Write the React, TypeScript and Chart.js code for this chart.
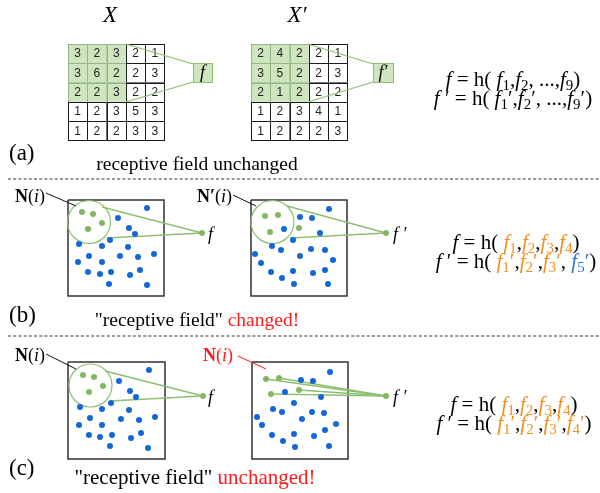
import React, { useEffect, useRef } from "react";
import { Chart, registerables } from "chart.js";

Chart.register(...registerables);

// ---------- data ----------
const gridX = [
  [3, 2, 3, 2, 1],
  [3, 6, 2, 2, 3],
  [2, 2, 3, 2, 2],
  [1, 2, 3, 5, 3],
  [1, 2, 2, 3, 3],
];
const gridXPrime = [
  [2, 4, 2, 2, 1],
  [3, 5, 2, 2, 3],
  [2, 1, 2, 2, 2],
  [1, 2, 3, 4, 1],
  [1, 2, 2, 2, 3],
];

const bLeftBlue = [[147,208],[118,218],[129,228],[135,234],[110,240],[79,244],[102,246],[128,247],[154,254],[89,256],[120,256],[138,257],[78,262],[102,262],[88,272],[100,274],[111,272],[130,275],[140,270],[109,284],[147,285]];
const bLeftGreen = [[82,212],[93,214],[102,223],[88,229]];
const bRightBlue = [[329,209],[300,217],[312,218],[284,229],[320,233],[293,240],[272,246],[281,250],[311,249],[325,250],[255,254],[300,256],[261,263],[333,260],[271,272],[293,271],[313,273],[325,270],[282,278],[294,284],[328,284]];
const bRightGreen = [[265,216],[278,215],[270,232],[299,228]];
const cLeftBlue = [[149,370],[119,381],[130,391],[136,397],[111,403],[80,407],[102,409],[129,410],[155,417],[90,418],[121,419],[139,420],[79,425],[102,425],[89,435],[100,437],[112,435],[131,438],[141,433],[110,446],[148,448]];
const cLeftGreen = [[83,375],[94,377],[103,386],[89,392]];
const cRightBlue = [[330,372],[301,380],[313,381],[285,392],[321,397],[294,403],[273,409],[282,412],[312,412],[324,413],[257,417],[302,419],[262,425],[336,424],[272,435],[294,434],[314,436],[325,430],[283,441],[295,447],[329,446]];
const cRightGreen = [[266,379],[279,378],[271,394],[299,390]];
const fNodes = [[202,233],[386,233],[203,396],[386,396]];
const fieldCircles = [[89,222],[272.5,222],[90.5,385.5]];

// connector segments
const greenLinks = [
  [[126,44],[193,64]], [[126,102],[193,82]],
  [[308,44],[373,64]], [[308,102],[373,82]],
  [[102,207],[202,233]], [[107,238],[202,233]],
  [[287,206],[386,233]], [[290,238],[386,233]],
  [[105,371],[203,396]], [[110,401],[203,396]],
  [[266,379],[386,396]], [[279,378],[386,396]], [[271,394],[386,396]], [[299,390],[386,396]],
];
const blackPointers = [[[46,193],[76,206]], [[233,195],[256,206]], [[46,354],[76,369]]];
const redPointers = [[[238,356],[266,369]]];
const dashedRules = [[[8,179],[600,179]], [[8,336],[600,336]]];

// boxes [x, y, w, h]
const boxes = [[68,200,96,96],[251,200,96,96],[68,362,97,97],[252,362,96,97]];

// ---------- layout / style ----------
const W = 600, H = 493;
const CELL = 19.3;
const gridOrigins = [[68, 44], [251, 44]];
const fBoxes = [[193, 63, 19, 19], [373, 63, 20, 19]];
const BLUE = "#1467d6";
const GREEN_DOT = "#85b660";
const GREEN_LINE = "#8dbf72";
const ORANGE = "#f58f1c";
const FBLUE = "#2a78d0";
const RED = "#ff1a1a";
const SERIF = '"Liberation Serif", "Times New Roman", serif';
const FORMULA_SIZE = 21;

type Seg = { t: string; it?: boolean; b?: boolean; sub?: boolean; c?: string };

const formulaA1: Seg[] = [
  { t: "f", it: true }, { t: " = h( " }, { t: "f", it: true }, { t: "1", sub: true }, { t: "," },
  { t: "f", it: true }, { t: "2", sub: true }, { t: ", ...," }, { t: "f", it: true }, { t: "9", sub: true }, { t: ")" },
];
const formulaA2: Seg[] = [
  { t: "f", it: true }, { t: " \u2032 = h( " }, { t: "f", it: true }, { t: "1", sub: true }, { t: "\u2032," },
  { t: "f", it: true }, { t: "2", sub: true }, { t: "\u2032, ...," }, { t: "f", it: true }, { t: "9", sub: true }, { t: "\u2032)" },
];
const formulaB1: Seg[] = [
  { t: "f", it: true }, { t: " = h( " },
  { t: "f", it: true, c: ORANGE }, { t: "1", sub: true, c: ORANGE }, { t: "," },
  { t: "f", it: true, c: ORANGE }, { t: "2", sub: true, c: ORANGE }, { t: "," },
  { t: "f", it: true, c: ORANGE }, { t: "3", sub: true, c: ORANGE }, { t: "," },
  { t: "f", it: true, c: ORANGE }, { t: "4", sub: true, c: ORANGE }, { t: ")" },
];
const formulaB2: Seg[] = [
  { t: "f", it: true }, { t: " \u2032 = h( " },
  { t: "f", it: true, c: ORANGE }, { t: "1", sub: true, c: ORANGE }, { t: "\u2032", c: ORANGE }, { t: "," },
  { t: "f", it: true, c: ORANGE }, { t: "2", sub: true, c: ORANGE }, { t: "\u2032", c: ORANGE }, { t: "," },
  { t: "f", it: true, c: ORANGE }, { t: "3", sub: true, c: ORANGE }, { t: "\u2032", c: ORANGE }, { t: ", " },
  { t: "f", it: true, c: FBLUE }, { t: "5", sub: true, c: FBLUE }, { t: "\u2032", c: FBLUE }, { t: ")" },
];
const formulaC2: Seg[] = [
  { t: "f", it: true }, { t: " \u2032 = h( " },
  { t: "f", it: true, c: ORANGE }, { t: "1", sub: true, c: ORANGE }, { t: "\u2032", c: ORANGE }, { t: "," },
  { t: "f", it: true, c: ORANGE }, { t: "2", sub: true, c: ORANGE }, { t: "\u2032", c: ORANGE }, { t: "," },
  { t: "f", it: true, c: ORANGE }, { t: "3", sub: true, c: ORANGE }, { t: "\u2032", c: ORANGE }, { t: "," },
  { t: "f", it: true, c: ORANGE }, { t: "4", sub: true, c: ORANGE }, { t: "\u2032", c: ORANGE }, { t: ")" },
];

function drawRich(ctx: CanvasRenderingContext2D, segs: Seg[], x: number, cy: number, size: number, align: "center" | "left") {
  const fontFor = (s: Seg) =>
    `${s.it ? "italic " : ""}${s.b ? "bold " : ""}${s.sub ? Math.round(size * 0.7) : size}px ${SERIF}`;
  let total = 0;
  for (const s of segs) { ctx.font = fontFor(s); total += ctx.measureText(s.t).width; }
  let px = align === "center" ? x - total / 2 : x;
  const base = cy + size * 0.33;
  ctx.textAlign = "left";
  ctx.textBaseline = "alphabetic";
  for (const s of segs) {
    ctx.font = fontFor(s);
    ctx.fillStyle = s.c || "#000";
    ctx.fillText(s.t, px, s.sub ? base + size * 0.2 : base);
    px += ctx.measureText(s.t).width;
  }
}

const gridPlugin = {
  id: "gridCells",
  beforeDatasetsDraw(chart: any) {
    const ctx = chart.ctx as CanvasRenderingContext2D;
    const X = (v: number) => chart.scales.x.getPixelForValue(v);
    const Y = (v: number) => chart.scales.y.getPixelForValue(v);
    [gridX, gridXPrime].forEach((g, gi) => {
      const [ox, oy] = gridOrigins[gi];
      ctx.save();
      for (let pass = 0; pass < 2; pass++) {
        g.forEach((row, r) => row.forEach((v, c) => {
          const green = r < 3 && c < 3;
          if ((pass === 0) !== green) return;
          const x0 = X(ox + c * CELL), y0 = Y(oy + r * CELL);
          const x1 = X(ox + (c + 1) * CELL), y1 = Y(oy + (r + 1) * CELL);
          ctx.fillStyle = green ? "#cfe5c0" : "#ffffff";
          ctx.fillRect(x0, y0, x1 - x0, y1 - y0);
          ctx.strokeStyle = green ? "#95b786" : "#1a1a1a";
          ctx.lineWidth = 1;
          ctx.strokeRect(Math.round(x0) + 0.5, Math.round(y0) + 0.5, Math.round(x1 - x0), Math.round(y1 - y0));
          ctx.fillStyle = "#222";
          ctx.font = '12px "Liberation Sans", Arial, sans-serif';
          ctx.textAlign = "center";
          ctx.textBaseline = "middle";
          ctx.fillText(String(v), (x0 + x1) / 2, (y0 + y1) / 2 + 0.5);
        }));
      }
      ctx.restore();
    });
  },
};

const textPlugin = {
  id: "diagramText",
  afterDatasetsDraw(chart: any) {
    const ctx = chart.ctx as CanvasRenderingContext2D;
    const X = (v: number) => chart.scales.x.getPixelForValue(v);
    const Y = (v: number) => chart.scales.y.getPixelForValue(v);
    ctx.save();
    // f boxes
    fBoxes.forEach(([bx, by, bw, bh], i) => {
      ctx.fillStyle = "#cfe5c0";
      ctx.fillRect(X(bx), Y(by), bw, bh);
      ctx.strokeStyle = GREEN_LINE;
      ctx.lineWidth = 1;
      ctx.strokeRect(Math.round(X(bx)) + 0.5, Math.round(Y(by)) + 0.5, bw, bh);
      drawRich(ctx, [{ t: i === 0 ? "f" : "f\u2032", it: true }], X(bx + bw / 2), Y(by + bh / 2), 18, "center");
    });
    // titles
    drawRich(ctx, [{ t: "X", it: true }], X(110), Y(14), 23, "center");
    drawRich(ctx, [{ t: "X\u2032", it: true }], X(297), Y(14), 23, "center");
    // panel letters
    drawRich(ctx, [{ t: "(a)" }], X(9), Y(152), 23, "left");
    drawRich(ctx, [{ t: "(b)" }], X(9), Y(314), 23, "left");
    drawRich(ctx, [{ t: "(c)" }], X(9), Y(467), 23, "left");
    // captions
    drawRich(ctx, [{ t: "receptive field unchanged" }], X(197), Y(164), 19.5, "center");
    drawRich(ctx, [{ t: "\"receptive field\" " }, { t: "changed!", c: RED }], X(197), Y(320), 19.5, "center");
    drawRich(ctx, [{ t: "\"receptive field\" " }, { t: "unchanged!", c: RED }], X(195), Y(477), 21, "center");
    // N(i) labels
    const NS = 18;
    drawRich(ctx, [{ t: "N", b: true }, { t: "(" }, { t: "i", it: true }, { t: ")" }], X(15), Y(196), NS, "left");
    drawRich(ctx, [{ t: "N\u2032", b: true }, { t: "(" }, { t: "i", it: true }, { t: ")" }], X(197), Y(196), NS, "left");
    drawRich(ctx, [{ t: "N", b: true }, { t: "(" }, { t: "i", it: true }, { t: ")" }], X(15), Y(355), NS, "left");
    drawRich(ctx, [{ t: "N", b: true, c: RED }, { t: "(", c: RED }, { t: "i", it: true, c: RED }, { t: ")", c: RED }], X(203), Y(355), NS, "left");
    // f node labels
    drawRich(ctx, [{ t: "f", it: true }], X(208), Y(234), 18, "left");
    drawRich(ctx, [{ t: "f \u2032", it: true }], X(393), Y(234), 18, "left");
    drawRich(ctx, [{ t: "f", it: true }], X(208), Y(397), 18, "left");
    drawRich(ctx, [{ t: "f \u2032", it: true }], X(393), Y(397), 18, "left");
    // formulas
    drawRich(ctx, formulaA1, X(513), Y(79), FORMULA_SIZE, "center");
    drawRich(ctx, formulaA2, X(513), Y(98), FORMULA_SIZE, "center");
    drawRich(ctx, formulaB1, X(516), Y(242), FORMULA_SIZE, "center");
    drawRich(ctx, formulaB2, X(516), Y(261), FORMULA_SIZE, "center");
    drawRich(ctx, formulaB1, X(514), Y(404), FORMULA_SIZE, "center");
    drawRich(ctx, formulaC2, X(514), Y(423), FORMULA_SIZE, "center");
    ctx.restore();
  },
};

const pts = (a: number[][]) => a.map(([x, y]) => ({ x, y }));

function buildDatasets() {
  const ds: any[] = [];
  const dot = (data: number[][], color: string) => ({
    type: "scatter", data: pts(data), pointRadius: 3, pointBackgroundColor: color,
    pointBorderWidth: 0, borderWidth: 0, showLine: false, order: 0,
  });
  [bLeftBlue, bRightBlue, cLeftBlue, cRightBlue].forEach((d) => ds.push(dot(d, BLUE)));
  [bLeftGreen, bRightGreen, cLeftGreen, cRightGreen, fNodes].forEach((d) => ds.push(dot(d, GREEN_DOT)));
  ds.push({
    type: "scatter", data: pts(fieldCircles), pointRadius: 21.5, pointBackgroundColor: "rgba(0,0,0,0)",
    pointBorderColor: GREEN_LINE, pointBorderWidth: 1.2, showLine: false, order: 2,
  });
  const seg = (s: number[][], color: string, width: number, dash: number[] = [], order = 1) => ({
    type: "line", data: pts(s), borderColor: color, borderWidth: width, borderDash: dash,
    pointRadius: 0, fill: false, tension: 0, order,
  });
  greenLinks.forEach((s) => ds.push(seg(s, GREEN_LINE, 1.3)));
  blackPointers.forEach((s) => ds.push(seg(s, "#111", 1)));
  redPointers.forEach((s) => ds.push(seg(s, RED, 1)));
  dashedRules.forEach((s) => ds.push(seg(s, "#777", 1.3, [3, 2.2])));
  boxes.forEach(([x, y, w, h]) =>
    ds.push(seg([[x, y], [x + w, y], [x + w, y + h], [x, y + h], [x, y]], "#333", 1.5, [], 3)));
  return ds;
}

export default function App() {
  const ref = useRef<HTMLCanvasElement | null>(null);
  useEffect(() => {
    if (!ref.current) return;
    const chart = new Chart(ref.current, {
      type: "scatter",
      data: { datasets: buildDatasets() },
      options: {
        animation: false,
        responsive: false,
        devicePixelRatio: 1,
        events: [],
        layout: { padding: 0, autoPadding: false },
        scales: {
          x: { type: "linear", min: 0, max: W, display: false },
          y: { type: "linear", min: 0, max: H, reverse: true, display: false },
        },
        plugins: { legend: { display: false }, tooltip: { enabled: false } },
      },
      plugins: [gridPlugin, textPlugin],
    } as any);
    return () => chart.destroy();
  }, []);
  return (
    <div style={{ position: "absolute", left: 0, top: 0, width: W, height: H, background: "#fff" }}>
      <canvas ref={ref} width={W} height={H} style={{ width: W, height: H, display: "block" }} />
    </div>
  );
}
